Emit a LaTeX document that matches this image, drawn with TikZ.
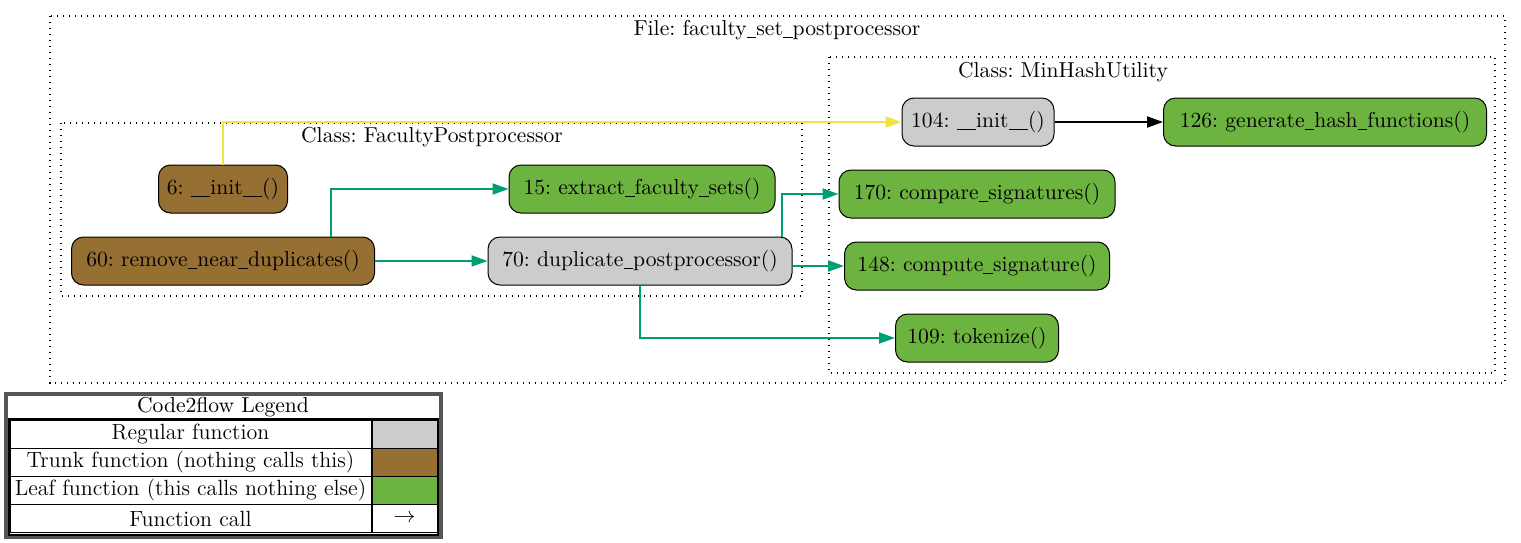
\documentclass[tikz,border=0pt]{standalone}
\usetikzlibrary{arrows.meta,calc}
\definecolor{regular}{HTML}{CCCCCC}
\definecolor{trunk}{HTML}{966F33}
\definecolor{leaf}{HTML}{6DB33F}
\definecolor{callgreen}{HTML}{009E73}
\definecolor{callyellow}{HTML}{F0E442}
\definecolor{legendgray}{HTML}{555555}
\newcommand\us{\rule[-1.3pt]{0.45em}{0.45pt}}
\frenchspacing
\tikzset{
  fn/.style={draw=black, line width=0.5pt, rounded corners=6pt, minimum height=24pt, inner sep=0pt, font=\fontsize{10.8}{13}\selectfont},
  reg/.style={fn, fill=regular},
  trk/.style={fn, fill=trunk},
  lf/.style={fn, fill=leaf},
  cluster/.style={draw=black, line width=0.6pt, dash pattern=on 0.6pt off 2.4pt},
  ctitle/.style={font=\fontsize{10.8}{13}\selectfont, inner sep=0pt},
  call/.style={line width=1pt, -{Triangle[length=8pt,width=5.5pt]}},
  gcall/.style={call, draw=callgreen, -{Triangle[length=8pt,width=5.5pt,fill=callgreen]}},
  ycall/.style={call, draw=callyellow, -{Triangle[length=8pt,width=5.5pt,fill=callyellow]}},
  bcall/.style={call, draw=black},
  cell/.style={draw=black, line width=0.5pt, inner sep=0pt, minimum height=14pt, font=\fontsize{11}{13}\selectfont},
}
\begin{document}
\begin{tikzpicture}[x=0.5pt,y=-0.5pt]
\useasboundingbox (0,0) rectangle (1521,542);
% clusters
\draw[cluster] (50,16) rectangle (1505,383);
\node[ctitle] (tfile) at (777,30) {File: faculty\us set\us postprocessor};
\draw[cluster] (61,123) rectangle (802,296);
\node[ctitle] (tfp) at (432,137) {Class: FacultyPostprocessor};
\draw[cluster] (829,57) rectangle (1495,373);
\node[ctitle] (tmh) at (1063,72) {Class: MinHashUtility};
% nodes
\node[trk, minimum width=64.5pt] (n6) at (223,189) {6: \us\us init\us\us()};
\node[lf, minimum width=133pt] (n15) at (642,189) {15: extract\us faculty\us sets()};
\node[trk, minimum width=151.5pt] (n60) at (223,261) {60: remove\us near\us duplicates()};
\node[reg, minimum width=152pt] (n70) at (640,261) {70: duplicate\us postprocessor()};
\node[reg, minimum width=76pt] (n104) at (978,122) {104: \us\us init\us\us()};
\node[lf, minimum width=161.5pt] (n126) at (1325,122) {126: generate\us hash\us functions()};
\node[lf, minimum width=138pt] (n170) at (977,194) {170: compare\us signatures()};
\node[lf, minimum width=132.5pt] (n148) at (977,266) {148: compute\us signature()};
\node[lf, minimum width=81.5pt] (n109) at (977,338) {109: tokenize()};
% edges
\draw[ycall] (n6.north) |- (n104.west);
\draw[bcall] (n104.east) -- (n126.west);
\draw[gcall] (331,0 |- n60.north) |- (n15.west);
\draw[gcall] (n60.east) -- (n70.west);
\draw[gcall] (782,0 |- n70.north) |- (n170.west);
\draw[gcall] (n70.east |- n148.west) -- (n148.west);
\draw[gcall] (n70.south) |- (n109.west);
% legend
\draw[draw=legendgray, line width=1.6pt] (6,394) rectangle (441,537);
\node[ctitle] (ltitle) at (223,407) {Code2flow Legend};
\draw[black, line width=1.4pt] (9,419) rectangle (438,535);
\node[cell, minimum width=180.5pt] (l1) at (190.5,434) {Regular function};
\node[cell, minimum width=32.5pt, fill=regular] (c1) at (404.5,434) {};
\node[cell, minimum width=180.5pt] (l2) at (190.5,462) {Trunk function (nothing calls this)};
\node[cell, minimum width=32.5pt, fill=trunk] (c2) at (404.5,462) {};
\node[cell, minimum width=180.5pt] (l3) at (190.5,490) {Leaf function (this calls nothing else)};
\node[cell, minimum width=32.5pt, fill=leaf] (c3) at (404.5,490) {};
\node[cell, minimum width=180.5pt] (l4) at (190.5,518.5) {Function call};
\node[cell, minimum width=32.5pt] (c4) at (404.5,518.5) {$\rightarrow$};
\end{tikzpicture}
\end{document}
